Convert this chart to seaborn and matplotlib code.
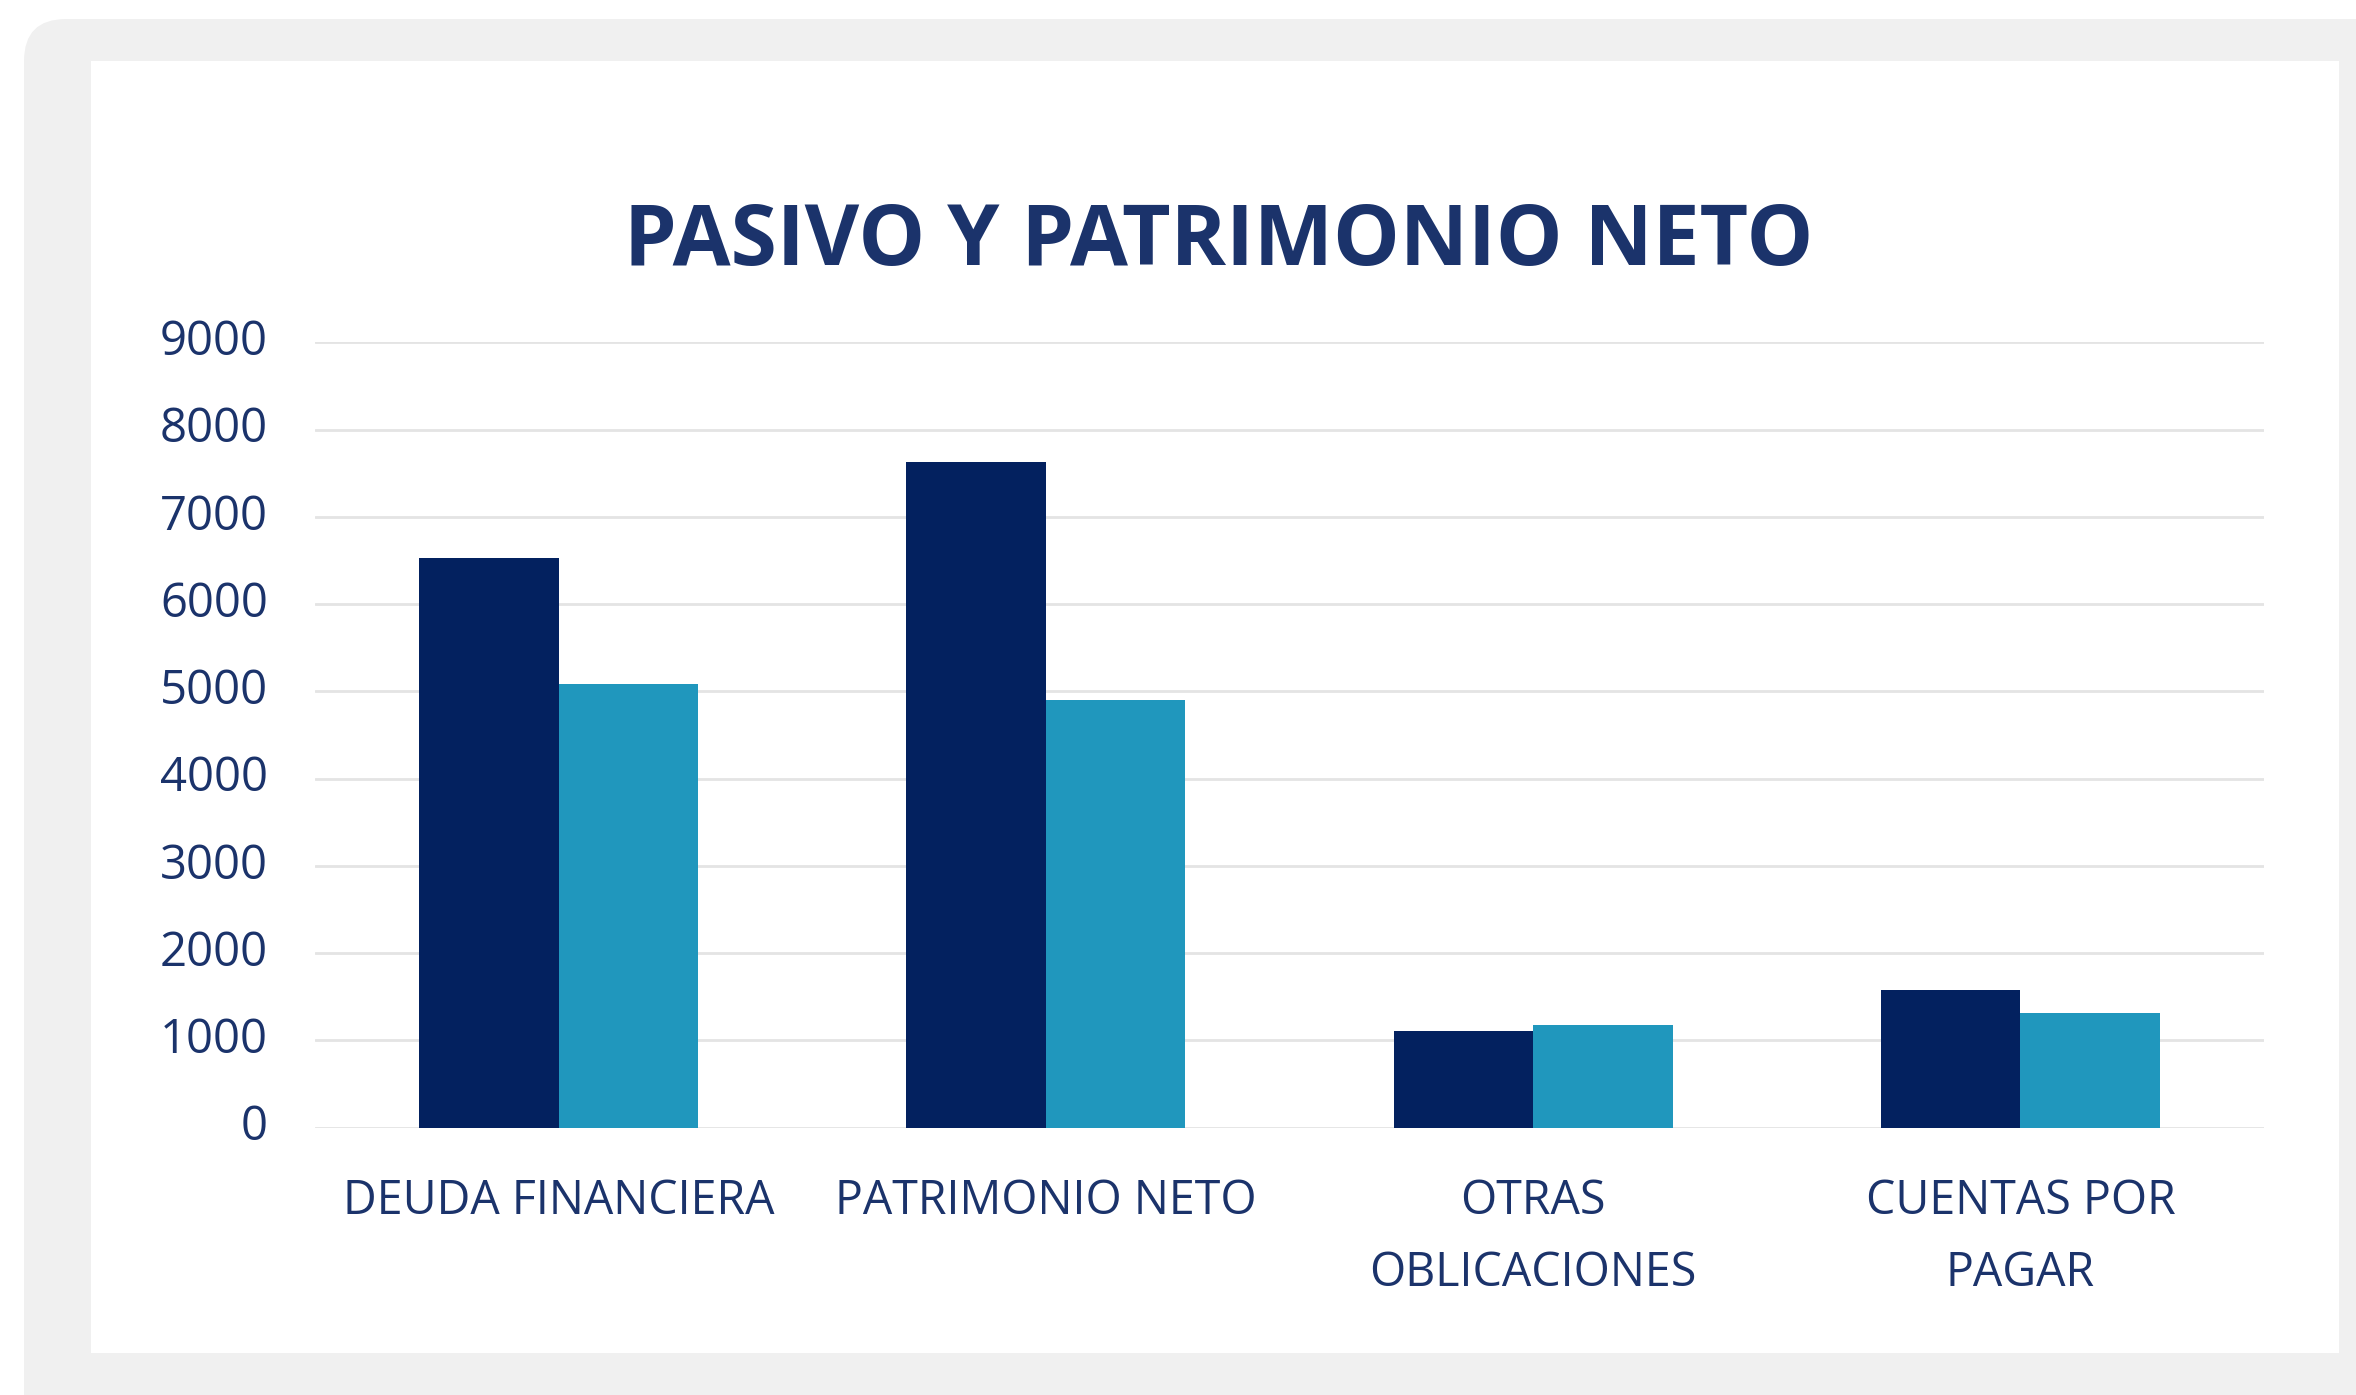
import matplotlib
matplotlib.use("Agg")
import matplotlib.pyplot as plt
from matplotlib.patches import FancyBboxPatch, Rectangle
from matplotlib.transforms import IdentityTransform
import pandas as pd
import seaborn as sns

# ---- data ----
categories = ["DEUDA FINANCIERA", "PATRIMONIO NETO", "OTRAS\nOBLICACIONES", "CUENTAS POR\nPAGAR"]
serie_1 = [6524, 7627, 1113, 1575]
serie_2 = [5090, 4900, 1178, 1309]
series_names = ["Serie 1", "Serie 2"]
y_ticks = [0, 1000, 2000, 3000, 4000, 5000, 6000, 7000, 8000, 9000]
title = "PASIVO Y PATRIMONIO NETO"

df = pd.DataFrame({
    "categoria": categories * 2,
    "valor": serie_1 + serie_2,
    "serie": [series_names[0]] * len(categories) + [series_names[1]] * len(categories),
})

# ---- style ----
sns.set_theme(style="white")
plt.rcParams["font.family"] = ["Open Sans", "DejaVu Sans"]

W, H = 2356, 1395
DPI = 100
navy = "#03215F"
teal = "#2097BD"
text_col = "#1B336B"
grid_col = "#E4E4E4"

fig = plt.figure(figsize=(W / DPI, H / DPI), dpi=DPI)
fig.patch.set_facecolor("white")

# grey rounded frame + white card (pixel coordinates, origin bottom-left)
frame = FancyBboxPatch((24, -80), 2500, H - 19 + 80,
                       boxstyle="round,pad=0,rounding_size=42",
                       facecolor="#F0F0F0", edgecolor="none",
                       transform=IdentityTransform(), zorder=-10)
card = Rectangle((91, H - 1353), 2339 - 91, 1353 - 61,
                 facecolor="white", edgecolor="none",
                 transform=IdentityTransform(), zorder=-9)
fig.add_artist(frame)
fig.add_artist(card)

# axes placement
x0, x1 = 315, 2264
y_top, y_bot = 342.3, 1127.7
ax = fig.add_axes([x0 / W, 1 - y_bot / H, (x1 - x0) / W, (y_bot - y_top) / H])
ax.set_facecolor("none")

sns.barplot(data=df, x="categoria", y="valor", hue="serie",
            palette=[navy, teal], saturation=1, width=0.573,
            linewidth=0, ax=ax, legend=False)

ax.set_xlim(-0.5, len(categories) - 0.5)
ax.set_ylim(0, 9000)
ax.set_yticks(y_ticks)
ax.set_yticklabels([str(v) for v in y_ticks])
ax.set_xlabel("")
ax.set_ylabel("")
ax.yaxis.grid(True, color=grid_col, linewidth=2)
ax.xaxis.grid(False)
ax.set_axisbelow(True)
for s in ax.spines.values():
    s.set_visible(False)
ax.tick_params(axis="both", length=0)
ax.tick_params(axis="y", pad=34, labelsize=34, labelcolor=text_col)
ax.tick_params(axis="x", pad=36, labelsize=33.5, labelcolor=text_col)
for lab in ax.get_xticklabels():
    lab.set_linespacing(1.66)
    lab.set_ha("center")
for lab in ax.get_yticklabels():
    lab.set_va("center")

fig.text(1219 / W, 1 - 243 / H, title, ha="center", va="center",
         fontsize=60.5, fontweight="bold", color=text_col)

fig.savefig("out.png", dpi=DPI)
